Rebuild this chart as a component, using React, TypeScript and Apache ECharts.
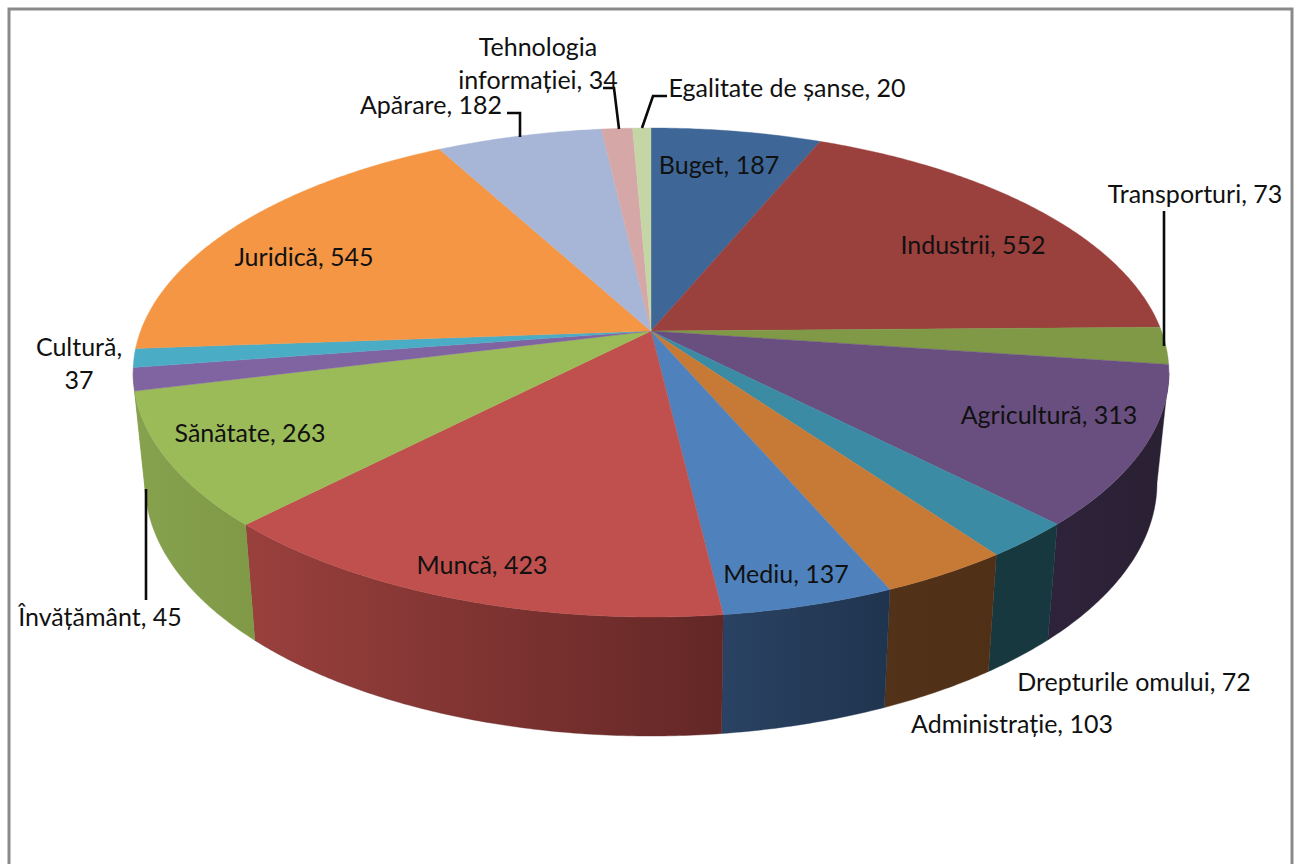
import React, { useEffect, useRef } from "react";
import * as echarts from "echarts";

const categories = ["Buget","Industrii","Transporturi","Agricultură","Drepturile omului","Administrație","Mediu","Muncă","Sănătate","Învățământ","Cultură","Juridică","Apărare","Tehnologia informației","Egalitate de șanse"];
const values = [187,552,73,313,72,103,137,423,263,45,37,545,182,34,20];
const topColors = ["#3e6797","#9a403d","#7f9946","#694e80","#3a8ba3","#c77a36","#4f81bd","#c0504d","#9bbb59","#8064a2","#4bacc6","#f59644","#a7b6d6","#d6a7a7","#c4d6a6"];
const sideLeft = ["#2b4769","#6b2c2a","#586a30","#2e233a","#18383f","#523218","#2a4263","#9a403d","#87a24e","#87a24e","#3f90a6","#d07e3a","#8c99b4","#b48c8c","#a5b48b"];
const sideRight = ["#2b4769","#6b2c2a","#586a30","#2a2033","#17383e","#4f3016","#1f344e","#632726","#7f9947","#87a24e","#3f90a6","#d07e3a","#8c99b4","#b48c8c","#a5b48b"];

const labelTexts = ["Buget, 187","Industrii, 552","Transporturi, 73","Agricultură, 313","Drepturile omului, 72","Administrație, 103","Mediu, 137","Muncă, 423","Sănătate, 263","Învățământ, 45","Cultură,\n37","Juridică, 545","Apărare, 182","Tehnologia\ninformației, 34","Egalitate de șanse, 20"];
const labelCentres = [[719,164],[973,244],[1195,193],[1049,414],[1134,681],[1012,723],[786,573],[482,564],[250,432],[100,616],[79,362],[304,256],[431,104],[538,62],[787,87]];
const leaderLines = [
  [[507,113],[520,113],[520,137]],
  [[603,88],[614,88],[619,129]],
  [[667,96],[653,96],[642,128]],
  [[1164,211],[1164,346]],
  [[146,489],[146,600]],
];
const framePoints = [[9,864],[9,9],[1292,9],[1292,864]];

// Perspective projection of the pie's unit disc onto the page.
const CX = 651, APEX = 331, K = -0.1697, A = 181.3, C = 510.4;
const BOTTOM_X = 0.977, BOTTOM_Y0 = 440, BOTTOM_YS = 1.035;
const FRONT_FROM = 99.8, FRONT_TO = 260.2;
const rad = (d: number) => (d * Math.PI) / 180;
const top = (deg: number): number[] => {
  const u = Math.sin(rad(deg)), v = -Math.cos(rad(deg)), d = 1 + K * v;
  return [CX + (C * u) / d, (A * v + APEX) / d];
};
const bottom = (deg: number): number[] => {
  const p = top(deg);
  return [CX + (p[0] - CX) * BOTTOM_X, BOTTOM_Y0 + (p[1] - APEX) * BOTTOM_YS];
};
const arc = (from: number, to: number, fn: (d: number) => number[]) => {
  const n = Math.max(2, Math.ceil((to - from) / 0.5));
  const pts: number[][] = [];
  for (let i = 0; i <= n; i++) pts.push(fn(from + ((to - from) * i) / n));
  return pts;
};

export default function App() {
  const ref = useRef<HTMLDivElement>(null);
  useEffect(() => {
    const chart = echarts.init(ref.current!, null, { renderer: "svg" });
    const total = values.reduce((a, b) => a + b, 0);
    let run = 0;
    const sliceData = categories.map((name, i) => {
      const from = (run / total) * 360;
      run += values[i];
      return { name, value: [from, (run / total) * 360, values[i]] };
    });
    chart.setOption({
      animation: false,
      backgroundColor: "#ffffff",
      tooltip: { show: false },
      series: [
        {
          type: "custom", coordinateSystem: "none", silent: true, z: 1, data: sliceData,
          renderItem: (p: any, api: any) => {
            const from = Math.max(api.value(0), FRONT_FROM), to = Math.min(api.value(1), FRONT_TO);
            if (to <= from) return { type: "group", children: [] };
            const i = p.dataIndex;
            const fill = new echarts.graphic.LinearGradient(0, 0, 1, 0, [
              { offset: 0, color: sideLeft[i] }, { offset: 1, color: sideRight[i] },
            ]);
            return {
              type: "polygon",
              shape: { points: [...arc(from, to, top), ...arc(from, to, bottom).reverse()] },
              style: { fill, stroke: sideRight[i], lineWidth: 0.4 },
            };
          },
        },
        {
          type: "custom", coordinateSystem: "none", silent: true, z: 2, data: sliceData,
          renderItem: (p: any, api: any) => ({
            type: "polygon",
            shape: { points: [[CX, APEX], ...arc(api.value(0), api.value(1), top)] },
            style: { fill: topColors[p.dataIndex], stroke: topColors[p.dataIndex], lineWidth: 0.4 },
          }),
        },
        {
          type: "custom", coordinateSystem: "none", silent: true, z: 3, data: leaderLines.map((_, i) => i),
          renderItem: (p: any) => ({
            type: "polyline",
            shape: { points: leaderLines[p.dataIndex] },
            style: { fill: "none", stroke: "#0a0a0a", lineWidth: 2.6 },
          }),
        },
        {
          type: "custom", coordinateSystem: "none", silent: true, z: 4, data: labelTexts.map((_, i) => i),
          renderItem: (p: any) => ({
            type: "text",
            style: {
              text: labelTexts[p.dataIndex],
              x: labelCentres[p.dataIndex][0], y: labelCentres[p.dataIndex][1],
              align: "center", verticalAlign: "middle",
              fontFamily: "Lato", fontSize: 25, lineHeight: 33, fill: "#111111",
            },
          }),
        },
        {
          type: "custom", coordinateSystem: "none", silent: true, z: 5, data: [0],
          renderItem: () => ({
            type: "polyline",
            shape: { points: framePoints },
            style: { fill: "none", stroke: "#8a8a8a", lineWidth: 3 },
          }),
        },
      ],
    });
    return () => chart.dispose();
  }, []);
  return <div ref={ref} style={{ position: "absolute", left: 0, top: 0, width: 1294, height: 864 }} />;
}
